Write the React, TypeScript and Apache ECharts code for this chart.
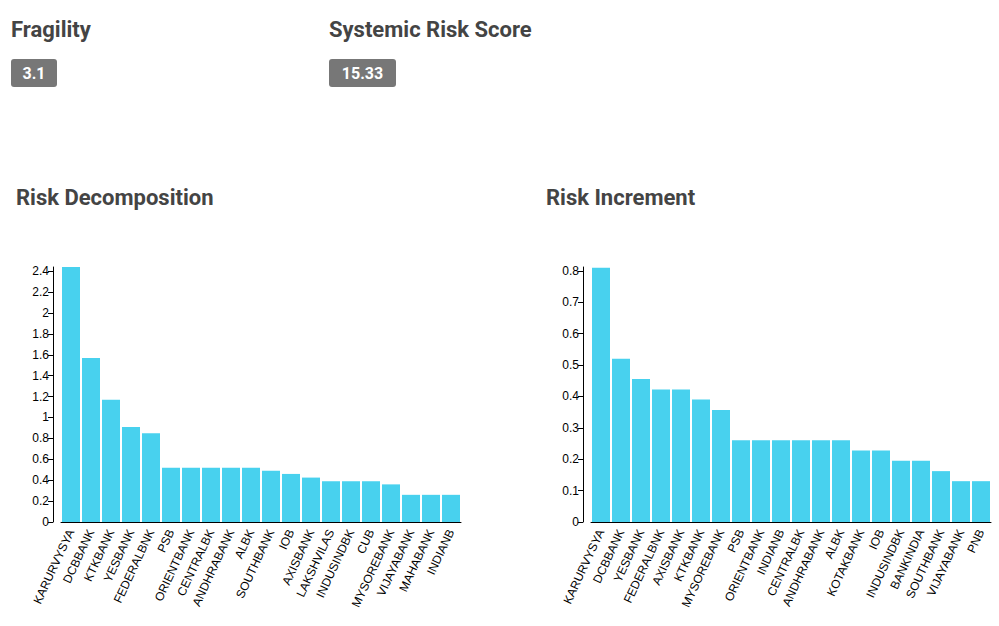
import React, { useEffect, useRef } from "react";
import * as echarts from "echarts";

const decompCats = ["KARURVYSYA","DCBBANK","KTKBANK","YESBANK","FEDERALBNK","PSB","ORIENTBANK","CENTRALBK","ANDHRABANK","ALBK","SOUTHBANK","IOB","AXISBANK","LAKSHVILAS","INDUSINDBK","CUB","MYSOREBANK","VIJAYABANK","MAHABANK","INDIANB"];
const decompVals = [2.44,1.57,1.17,0.91,0.85,0.52,0.52,0.52,0.52,0.52,0.49,0.46,0.425,0.39,0.39,0.39,0.36,0.26,0.26,0.26];
const incCats = ["KARURVYSYA","DCBBANK","YESBANK","FEDERALBNK","AXISBANK","KTKBANK","MYSOREBANK","PSB","ORIENTBANK","INDIANB","CENTRALBK","ANDHRABANK","ALBK","KOTAKBANK","IOB","INDUSINDBK","BANKINDIA","SOUTHBANK","VIJAYABANK","PNB"];
const incVals = [0.81,0.52,0.455,0.422,0.422,0.39,0.357,0.26,0.26,0.26,0.26,0.26,0.26,0.228,0.228,0.195,0.195,0.162,0.13,0.13];
const fragility = "3.1";
const riskScore = "15.33";

const font = "'Liberation Sans', Arial, sans-serif";
const head = "Roboto, 'Noto Sans', sans-serif";

export default function App() {
  const ref = useRef<HTMLDivElement>(null);
  useEffect(() => {
    const chart = echarts.init(ref.current!, null, { renderer: "svg" });
    const xAx = (cats: string[], gi: number) => ({
      type: "category", gridIndex: gi, data: cats,
      axisLine: { lineStyle: { color: "#000" } },
      axisTick: { alignWithLabel: true, length: 5, lineStyle: { color: "#000" } },
      axisLabel: { rotate: 65, interval: 0, color: "#000", fontSize: 12, fontFamily: font, margin: 8 },
    });
    const yAx = (gi: number, max: number, interval: number) => ({
      type: "value", gridIndex: gi, min: 0, max, interval, offset: 8,
      axisLine: { show: true, lineStyle: { color: "#000" } },
      axisTick: { show: true, length: 5, lineStyle: { color: "#000" } },
      splitLine: { show: false },
      axisLabel: { color: "#000", fontSize: 12, fontFamily: font, margin: 4, showMaxLabel: false },
    });
    const titleText = (x: number, y: number, t: string) => ({
      type: "text", x, y, style: { text: t, fill: "#444", font: `bold 22px ${head}` },
    });
    const badge = (x: number, w: number, t: string) => ({
      type: "group", children: [
        { type: "rect", shape: { x, y: 59, width: w, height: 28, r: 3 }, style: { fill: "#777" } },
        { type: "text", x: x + w / 2, y: 73, style: { text: t, fill: "#fff", font: `bold 16px ${head}`, align: "center", verticalAlign: "middle" } },
      ],
    });
    chart.setOption({
      animation: false,
      grid: [
        { left: 61, width: 400, top: 267, bottom: 104 },
        { left: 591, width: 400, top: 267, bottom: 104 },
      ],
      xAxis: [xAx(decompCats, 0), xAx(incCats, 1)],
      yAxis: [yAx(0, 2.44, 0.2), yAx(1, 0.812, 0.1)],
      series: [
        { type: "bar", xAxisIndex: 0, yAxisIndex: 0, data: decompVals, barCategoryGap: "10%", itemStyle: { color: "#48D1EE" } },
        { type: "bar", xAxisIndex: 1, yAxisIndex: 1, data: incVals, barCategoryGap: "10%", itemStyle: { color: "#48D1EE" } },
      ],
      graphic: [
        titleText(11, 18, "Fragility"),
        titleText(329, 18, "Systemic Risk Score"),
        badge(11, 46, fragility),
        badge(329, 67, riskScore),
        titleText(16, 186, "Risk Decomposition"),
        titleText(546, 186, "Risk Increment"),
      ],
    });
    return () => chart.dispose();
  }, []);
  return <div ref={ref} style={{ width: 999, height: 626, position: "absolute", left: 0, top: 0 }} />;
}
